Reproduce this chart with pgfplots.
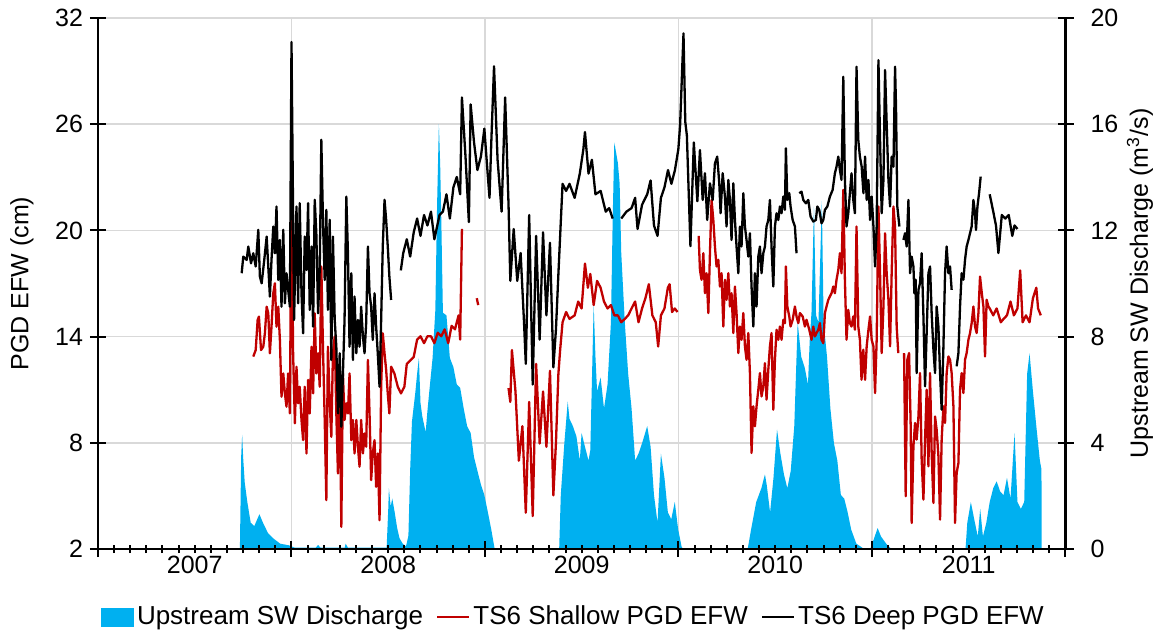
\documentclass[border=0pt]{standalone}
\usepackage{fontspec}
\setmainfont{Liberation Sans}
\usepackage{pgfplots}
\pgfplotsset{compat=1.18}
\definecolor{sw}{RGB}{0,176,240}
\definecolor{shallow}{RGB}{192,0,0}
\definecolor{gridc}{RGB}{217,217,217}

\pgfplotstableread{
m q
8.80 0
8.88 3.5
8.94 4.3
9.00 3.46
9.10 2.5
9.26 1.77
9.47 0.99
9.69 0.86
10.01 1.31
10.23 0.99
10.55 0.59
10.87 0.40
11.30 0.20
11.83 0.14
12.20 0.05
13.50 0.05
13.65 0.15
13.80 0.05
15.30 0.05
15.36 0.20
15.50 0.05
17.90 0.05
18.00 1.5
18.04 2.29
18.15 1.6
18.25 1.9
18.40 1.38
18.55 0.8
18.70 0.4
18.90 0.2
19.10 0.1
19.25 0.5
19.36 3.0
19.47 4.8
19.68 5.9
19.79 6.6
19.90 7.2
20.00 5.5
20.11 5.0
20.32 4.4
20.43 5.2
20.54 5.9
20.75 7.2
20.92 9.0
21.03 13.0
21.14 16.0
21.22 14.5
21.29 12.4
21.39 8.9
21.61 8.8
21.82 7.2
22.04 6.85
22.25 6.2
22.46 6.07
22.68 5.29
22.89 4.63
23.11 4.37
23.32 3.46
23.53 2.94
23.75 2.42
23.96 2.03
24.18 1.38
24.39 0.73
24.60 0
28.60 0
28.70 2.03
28.92 3.98
29.13 5.55
29.24 4.9
29.45 4.63
29.67 4.24
29.88 3.33
29.99 4.37
30.20 3.85
30.42 3.33
30.53 3.72
30.74 9.2
30.85 7.24
30.95 5.94
31.17 6.46
31.38 5.29
31.60 6.2
31.81 8.54
31.92 12.45
32.02 15.32
32.24 14.54
32.35 13.76
32.45 11.15
32.67 8.54
32.88 6.59
33.09 5.29
33.31 3.33
33.52 3.59
33.74 3.98
34.06 4.63
34.27 3.85
34.48 2.03
34.70 0.99
34.91 3.59
35.13 2.68
35.34 1.38
35.55 1.12
35.77 1.77
35.98 0.73
36.20 0.07
36.30 0
40.29 0
40.50 0.73
40.82 1.77
41.14 2.29
41.36 2.81
41.47 2.42
41.68 1.38
41.89 2.68
42.11 4.5
42.32 3.59
42.54 2.81
42.75 2.29
42.96 2.94
43.18 4.63
43.39 8.54
43.61 7.24
43.82 6.85
44.03 6.2
44.14 7.89
44.25 8.93
44.40 12.9
44.53 8.8
44.68 8.54
44.89 13.1
45.00 8.54
45.21 7.24
45.42 5.29
45.64 3.98
45.85 3.33
46.07 2.03
46.28 1.9
46.49 1.38
46.71 0.73
47.03 0.2
47.35 0.07
47.50 0
47.90 0
48.35 0.79
48.56 0.47
48.88 0.2
49.20 0
53.80 0
53.91 0.99
54.13 1.77
54.34 1.12
54.56 0.47
54.71 1.51
54.88 0.47
55.09 0.99
55.30 1.77
55.52 2.29
55.73 2.55
55.95 2.16
56.16 2.03
56.37 2.68
56.59 1.9
56.84 4.37
57.02 1.77
57.23 1.51
57.44 1.77
57.62 6.59
57.77 7.37
57.98 5.94
58.19 4.63
58.41 3.33
58.51 3.0
58.52 0
}\discharge

\pgfplotstableread{
m v
9.63 12.87
9.78 13.24
9.90 14.94
9.98 15.13
10.11 13.24
10.25 13.43
10.35 14.19
10.46 15.69
10.56 15.32
10.66 13.06
10.76 14.56
10.87 16.45
10.97 17.01
11.07 14.56
11.18 15.69
11.28 13.81
11.38 10.60
11.49 11.92
11.59 10.79
11.69 10.04
11.79 11.92
11.90 9.66
12.00 22.48
12.10 13.06
12.21 9.10
12.31 12.30
12.41 10.23
12.51 11.17
12.62 9.29
12.72 8.15
12.82 11.17
12.93 7.40
13.03 11.55
13.13 9.66
13.24 13.43
13.34 10.79
13.44 15.32
13.54 11.92
13.65 13.06
13.75 11.17
13.85 17.96
13.96 13.06
14.06 9.29
14.16 4.76
14.26 13.43
14.37 10.23
14.47 8.34
14.57 13.06
14.68 14.00
14.78 9.66
14.88 6.27
14.99 11.17
15.09 3.25
15.19 11.92
15.29 9.29
15.40 10.23
15.50 9.66
15.60 11.92
15.71 8.15
15.81 9.29
15.91 7.40
16.02 9.29
16.12 7.78
16.22 6.65
16.32 9.29
16.43 7.40
16.53 8.53
16.63 7.78
16.74 12.68
16.84 9.66
16.94 5.89
17.04 7.40
17.15 8.15
17.25 5.51
17.35 7.40
17.46 3.63
17.56 11.17
17.66 14.19
17.77 13.06
17.87 12.11
17.97 10.79
18.07 9.66
18.18 12.30
18.38 11.92
18.59 11.17
18.79 10.79
19.00 11.17
19.15 12.46
19.36 12.65
19.58 12.85
19.79 13.83
20.00 14.02
20.22 13.63
20.43 14.02
20.65 14.02
20.86 13.63
21.07 14.22
21.29 14.02
21.50 14.41
21.72 13.63
21.93 14.61
22.14 14.41
22.36 15.20
22.46 13.83
22.57 20.08
22.60 nan
23.49 16.17
23.58 15.78
23.60 nan
25.46 11.09
25.57 10.31
25.67 13.24
25.89 10.90
26.10 6.99
26.32 8.94
26.53 4.05
26.74 10.31
26.96 3.86
27.17 12.46
27.39 7.96
27.60 10.90
27.81 7.77
28.03 12.07
28.24 5.03
28.40 8.00
28.55 11.87
28.66 13.24
28.81 14.81
29.03 15.39
29.24 15.00
29.56 15.20
29.78 15.98
29.99 15.59
30.20 18.13
30.38 16.76
30.53 17.54
30.74 15.78
30.95 17.15
31.17 16.76
31.38 15.98
31.60 15.59
31.81 15.78
32.02 15.20
32.24 15.20
32.45 14.81
32.67 15.00
32.88 15.20
33.09 15.59
33.31 15.98
33.52 14.81
33.74 15.59
33.95 16.17
34.16 16.96
34.38 15.20
34.59 14.81
34.74 13.44
34.91 15.20
35.13 15.59
35.34 16.76
35.45 16.96
35.60 15.39
35.77 15.59
35.94 15.39
36.00 nan
37.25 19.69
37.33 17.77
37.43 17.21
37.54 18.71
37.64 16.45
37.74 17.58
37.85 15.33
37.95 18.71
38.05 21.72
38.16 20.59
38.26 19.09
38.36 17.96
38.47 18.34
38.57 16.83
38.67 17.58
38.78 14.57
38.88 17.21
38.98 16.08
39.09 17.58
39.19 15.70
39.29 16.45
39.40 14.20
39.50 16.83
39.60 15.33
39.71 13.07
39.81 14.57
39.91 13.82
40.02 15.33
40.12 13.45
40.22 12.69
40.33 14.20
40.43 11.94
40.53 7.43
40.64 10.06
40.74 8.93
40.84 10.06
40.95 11.00
41.05 11.94
41.15 10.62
41.26 11.19
41.36 12.50
41.46 10.44
41.57 12.13
41.67 13.45
41.77 14.20
41.88 9.87
41.98 12.69
42.08 14.39
42.19 13.82
42.29 14.57
42.39 13.82
42.50 14.95
42.60 14.76
42.66 17.96
42.75 15.70
42.87 15.14
42.95 14.57
43.08 14.95
43.22 15.70
43.32 15.14
43.43 14.76
43.53 15.33
43.70 15.14
43.84 14.57
43.94 14.95
44.11 14.39
44.25 13.82
44.36 14.57
44.46 14.01
44.56 14.20
44.67 14.39
44.77 14.76
44.87 13.82
44.98 13.63
45.08 15.33
45.18 15.70
45.29 16.08
45.39 16.27
45.49 16.45
45.60 16.83
45.70 16.45
45.80 17.21
45.91 17.77
46.01 18.71
46.11 17.58
46.22 22.29
46.32 17.21
46.42 13.82
46.53 15.51
46.63 14.76
46.73 14.57
46.84 15.14
46.94 14.39
47.04 20.22
47.15 14.57
47.25 13.82
47.35 11.56
47.46 13.26
47.57 11.56
47.67 13.45
47.78 14.39
47.88 15.14
47.98 13.82
48.09 13.45
48.19 10.81
48.29 13.82
48.40 21.35
48.50 17.58
48.60 13.07
48.71 15.70
48.81 19.84
48.91 17.58
49.02 16.08
49.12 13.45
49.22 17.58
49.33 21.35
49.43 20.22
49.53 14.57
49.63 13.07
49.75 nan
49.99 13.07
50.09 4.98
50.19 12.69
50.30 13.07
50.40 8.93
50.46 3.47
50.57 7.80
50.67 9.12
50.77 8.18
50.88 9.49
50.98 11.94
51.08 7.05
51.19 4.79
51.29 8.18
51.39 11.00
51.50 6.67
51.60 11.94
51.70 7.43
51.81 4.60
51.91 9.49
52.01 8.74
52.12 7.24
52.22 3.66
52.32 8.18
52.43 10.06
52.53 9.12
52.63 11.94
52.74 12.88
52.84 12.69
52.94 11.94
53.05 10.06
53.15 3.47
53.25 6.30
53.36 6.86
53.46 11.00
53.56 11.94
53.67 10.81
53.77 12.69
53.87 13.07
53.98 13.82
54.08 14.20
54.18 14.76
54.29 15.70
54.39 14.57
54.49 14.20
54.60 15.33
54.70 17.39
54.81 16.45
54.91 15.70
55.01 12.88
55.11 16.08
55.22 15.70
55.30 15.59
55.52 15.20
55.73 15.59
55.99 14.81
56.16 15.00
56.37 15.20
56.59 15.98
56.80 15.20
57.02 15.59
57.19 17.74
57.34 14.81
57.55 15.20
57.77 14.81
57.98 16.17
58.19 16.76
58.30 15.59
58.47 15.20
}\shallowtab

\pgfplotstableread{
m v
8.91 17.58
9.01 18.52
9.22 18.33
9.32 19.09
9.49 18.14
9.63 18.71
9.78 17.96
9.94 20.03
10.04 17.39
10.15 17.01
10.31 18.33
10.46 19.65
10.56 17.96
10.66 16.26
10.76 18.33
10.87 20.22
10.97 18.71
11.07 21.35
11.18 17.20
11.28 19.46
11.38 15.69
11.49 20.03
11.59 15.88
11.69 17.58
11.90 15.69
12.00 30.64
12.16 14.94
12.31 21.35
12.41 15.88
12.51 21.54
12.62 16.45
12.72 14.19
12.82 19.65
12.93 17.77
13.03 21.54
13.13 15.51
13.24 19.09
13.34 14.56
13.44 21.73
13.54 19.84
13.65 15.32
13.75 17.77
13.85 25.12
13.96 20.22
14.06 17.20
14.16 21.16
14.26 15.51
14.37 20.60
14.47 12.68
14.57 19.65
14.68 14.94
14.78 13.43
14.88 9.66
14.99 13.06
15.09 8.91
15.19 11.92
15.29 14.94
15.40 21.91
15.50 18.71
15.60 13.43
15.71 17.58
15.81 12.68
15.91 16.26
16.02 13.06
16.12 14.94
16.22 13.43
16.32 15.69
16.43 14.00
16.53 13.06
16.63 14.75
16.74 19.09
16.84 16.45
16.94 15.69
17.04 13.81
17.15 16.45
17.25 14.56
17.35 13.06
17.46 11.17
17.56 14.94
17.66 19.09
17.77 21.73
17.87 20.60
17.97 19.09
18.07 17.39
18.18 16.07
18.30 nan
18.78 17.74
18.93 18.72
19.15 19.50
19.36 18.52
19.58 19.89
19.79 20.67
20.00 19.69
20.22 20.87
20.43 20.28
20.65 21.06
20.86 19.50
21.18 20.87
21.39 21.06
21.61 22.04
21.82 20.67
22.04 22.43
22.25 23.02
22.46 22.04
22.57 27.51
22.79 24.19
23.00 20.47
23.11 27.12
23.32 24.97
23.53 23.41
23.75 24.19
23.96 25.75
24.18 23.02
24.28 21.84
24.39 24.97
24.56 29.27
24.78 23.99
25.03 21.06
25.25 27.51
25.46 21.45
25.57 17.15
25.78 20.08
26.00 17.15
26.21 18.72
26.42 14.81
26.53 12.46
26.74 20.87
26.96 11.29
27.17 19.69
27.39 13.83
27.60 19.89
27.81 15.20
28.03 19.30
28.24 12.26
28.40 14.40
28.55 17.50
28.71 20.67
28.81 22.63
29.03 22.23
29.24 22.63
29.56 21.84
29.88 23.21
30.10 24.58
30.20 25.56
30.42 23.21
30.63 23.99
30.85 22.04
31.17 22.23
31.49 21.06
31.70 21.26
31.92 20.67
32.00 nan
32.45 20.67
32.77 21.06
33.09 21.26
33.31 21.84
33.46 20.08
33.74 21.45
34.06 22.04
34.27 22.82
34.48 20.28
34.70 19.69
34.91 21.84
35.13 22.43
35.35 23.41
35.56 22.63
35.78 23.41
35.99 24.58
36.10 25.95
36.31 31.13
36.42 26.14
36.52 25.36
36.74 19.11
36.95 24.97
37.17 21.65
37.33 24.54
37.50 21.72
37.64 23.23
37.78 20.59
37.95 22.66
38.12 21.72
38.26 23.79
38.40 24.17
38.53 22.66
38.61 20.97
38.74 23.23
38.88 21.91
38.98 20.22
39.09 22.85
39.19 21.72
39.29 19.46
39.40 22.66
39.50 20.59
39.60 19.09
39.71 17.58
39.81 20.22
39.91 19.09
40.02 22.10
40.12 20.22
40.22 19.46
40.33 18.52
40.43 19.84
40.53 16.83
40.64 14.57
40.74 17.58
40.84 15.70
40.95 18.52
41.05 19.09
41.15 17.58
41.26 18.71
41.36 19.09
41.46 20.22
41.57 20.59
41.67 21.72
41.77 19.09
41.88 16.83
41.98 20.22
42.08 20.97
42.19 20.59
42.29 21.35
42.39 20.97
42.50 21.91
42.60 21.16
42.66 24.64
42.75 21.72
42.87 22.10
42.95 21.35
43.08 20.59
43.22 20.22
43.32 18.71
43.40 nan
43.49 22.10
43.63 22.19
43.74 21.72
43.90 21.53
44.05 21.72
44.19 20.78
44.36 20.50
44.52 20.59
44.61 21.35
44.73 21.16
44.87 20.40
44.98 20.59
45.08 21.16
45.23 21.35
45.39 21.91
45.56 22.29
45.70 23.23
45.80 23.60
45.91 24.17
46.01 23.41
46.11 22.85
46.22 28.68
46.32 22.85
46.42 20.22
46.53 20.97
46.63 22.10
46.73 23.23
46.84 21.72
46.94 20.97
47.04 29.25
47.15 25.11
47.25 24.17
47.36 23.60
47.47 22.10
47.57 24.17
47.67 21.72
47.78 22.85
47.88 20.59
47.98 21.91
48.09 20.22
48.19 17.96
48.29 20.22
48.40 29.62
48.50 25.11
48.60 20.97
48.71 22.85
48.81 29.06
48.91 26.05
49.02 22.85
49.12 21.35
49.22 24.17
49.33 23.60
49.43 29.25
49.49 26.99
49.57 21.35
49.70 20.22
49.80 nan
49.95 19.46
50.05 19.84
50.15 19.09
50.26 21.72
50.36 17.58
50.46 18.52
50.57 17.96
50.63 16.45
50.71 17.21
50.77 11.94
50.88 16.64
50.98 17.02
51.08 18.71
51.19 15.14
51.29 11.19
51.39 14.20
51.50 17.58
51.60 17.96
51.70 15.33
51.81 13.26
51.91 11.94
52.01 15.70
52.12 14.57
52.22 11.94
52.32 9.87
52.43 13.45
52.53 17.58
52.63 19.09
52.74 17.58
52.84 17.96
52.94 16.64
53.10 nan
53.25 12.32
53.36 13.07
53.46 15.70
53.56 17.58
53.67 17.21
53.77 18.34
53.87 19.09
53.98 19.46
54.08 19.84
54.18 20.22
54.29 21.72
54.39 20.97
54.45 20.03
54.54 21.35
54.64 22.10
54.74 23.04
54.90 nan
55.30 22.04
55.52 21.06
55.69 20.28
55.84 18.72
56.05 20.87
56.27 20.67
56.48 20.87
56.70 19.69
56.84 20.28
57.02 20.08
}\deeptab

\pgfplotsset{
  common/.style={
    width=483.75pt, height=265.5pt, scale only axis,
    xmin=0, xmax=60,
    /pgf/number format/assume math mode=true,
    tick label style={font=\fontsize{12.5}{15}\selectfont},
    label style={font=\fontsize{12.5}{15}\selectfont},
    tick align=center,
    major tick length=8pt,
    minor tick length=4pt,
    every tick/.style={black, line width=1pt},
  }
}

\begin{document}
\begin{tikzpicture}
\useasboundingbox (-49pt,-44.5pt) rectangle (532.5pt,274.5pt);

% grid
\begin{axis}[common, ymin=2, ymax=32,
  xtick={0,12,...,60}, ytick={2,8,...,32},
  xmajorgrids, ymajorgrids,
  major grid style={draw=gridc, line width=0.8pt},
  axis line style={draw=none},
  xticklabels={}, yticklabels={},
  major tick length=0pt]
\end{axis}

% discharge
\begin{axis}[common, ymin=0, ymax=20,
  axis y line*=right, axis x line=none,
  ytick={0,4,...,20},
  yticklabel style={xshift=5pt},
  y axis line style={line width=1.2pt},
  ylabel={Upstream SW Discharge (m\textsuperscript{3}/s)},
  y label style={at={(axis description cs:1.077,0.5)}, anchor=center}]
\addplot[fill=sw, draw=none] table[x=m, y=q] {\discharge} \closedcycle;
\end{axis}

% lines
\begin{axis}[common, ymin=2, ymax=32,
  axis y line*=left, axis x line*=bottom,
  axis line style={line width=1.2pt},
  ytick={2,8,...,32},
  xtick={0,12,...,60}, xticklabels={},
  minor x tick num=11,
  extra x ticks={6,18,30,42,54},
  extra x tick labels={2007,2008,2009,2010,2011},
  extra x tick style={major tick length=0pt},
  ylabel={PGD EFW (cm)},
  y label style={at={(axis description cs:-0.0786,0.5)}, anchor=center},
  unbounded coords=jump,
  legend columns=3,
  legend style={draw=none, fill=none, at={(axis description cs:0.492,-0.128)}, anchor=center,
    font=\fontsize{13}{15}\selectfont,
    nodes={inner xsep=1.5pt},
    /tikz/every even column/.append style={column sep=5pt}},
  legend cell align=left]
\addlegendimage{legend image code/.code={\fill[sw] (0pt,-4.5pt) rectangle (16pt,4.5pt);}}
\addlegendentry{Upstream SW Discharge}
\addplot[shallow, line width=1.15pt, line join=round,
  legend image code/.code={\draw[shallow, line width=1.15pt] (0pt,0pt) -- (16pt,0pt);}]
  table[x=m, y=v] {\shallowtab};
\addlegendentry{TS6 Shallow PGD EFW}
\addplot[black, line width=1.15pt, line join=round,
  legend image code/.code={\draw[black, line width=1.15pt] (0pt,0pt) -- (16pt,0pt);}]
  table[x=m, y=v] {\deeptab};
\addlegendentry{TS6 Deep PGD EFW}
\end{axis}
\end{tikzpicture}
\end{document}
